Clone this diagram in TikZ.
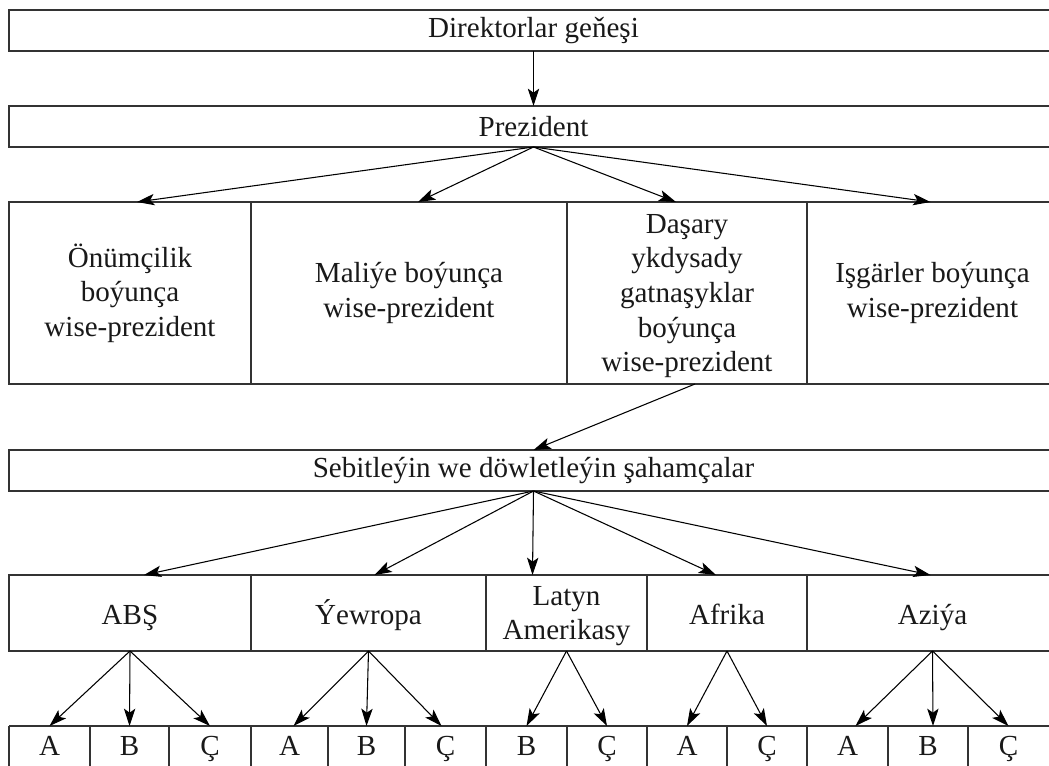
\documentclass[tikz,border=0pt]{standalone}
\usepackage{fontspec}
\setmainfont{Liberation Serif}
\usetikzlibrary{arrows.meta,calc}
\begin{document}
\begin{tikzpicture}[x=0.75pt,y=-0.75pt,
  txt/.style={font=\fontsize{21.8}{26}\selectfont, text=black!90, align=center},
  rect/.style n args={4}{at={({(#1+#3)/2},{(#2+#4)/2})}, minimum width={(#3-#1)*0.75pt}, minimum height={(#4-#2)*0.75pt}},
  box/.style={txt, draw=black!80, line width=1pt, inner sep=0pt, outer sep=0pt},
  bcell/.style={txt, inner sep=0pt, outer sep=0pt, text height=14.4pt, text depth=0pt},
  low/.style={text height=17pt, text depth=0pt},
  arr/.style={draw=black, line width=0.8pt, -{Stealth[length=13pt,width=8.5pt,inset=3pt]}},
]
\useasboundingbox (0,0) rectangle (1049,766);
\clip (0,0) rectangle (1049,766);

\node[box, rect={9}{10}{1058}{51}] (dir) {Direktorlar geňeşi};
\node[box, rect={9}{106}{1058}{147}] (prez) {Prezident};
\node[box, rect={9}{202}{251}{384}] (v1) {Önümçilik\\boýunça\\wise-prezident};
\node[box, rect={251}{202}{567}{384}] (v2) {Maliýe boýunça\\wise-prezident};
\node[box, text depth=-9pt, rect={567}{202}{807}{384}] (v3) {Daşary\\ykdysady\\gatnaşyklar\\boýunça\\wise-prezident};
\node[box, rect={807}{202}{1058}{384}] (v4) {Işgärler boýunça\\wise-prezident};
\node[box, rect={9}{450}{1058}{491}] (seb) {Sebitleýin we döwletleýin şahamçalar};

\node[box, low, rect={9}{575}{251}{651}] (r1) {ABŞ};
\node[box, low, rect={251}{575}{486}{651}] (r2) {Ýewropa};
\node[box, text depth=-1.3pt, rect={486}{575}{647}{651}] (r3) {Latyn\\Amerikasy};
\node[box, low, rect={647}{575}{807}{651}] (r4) {Afrika};
\node[box, low, rect={807}{575}{1058}{651}] (r5) {Aziýa};

\node[bcell, rect={9}{726}{90}{766}] (b1) {A};
\node[bcell, rect={90}{726}{169}{766}] (b2) {B};
\node[bcell, rect={169}{726}{251}{766}] (b3) {Ç};
\node[bcell, rect={251}{726}{328}{766}] (b4) {A};
\node[bcell, rect={328}{726}{405}{766}] (b5) {B};
\node[bcell, rect={405}{726}{486}{766}] (b6) {Ç};
\node[bcell, rect={486}{726}{567}{766}] (b7) {B};
\node[bcell, rect={567}{726}{647}{766}] (b8) {Ç};
\node[bcell, rect={647}{726}{727}{766}] (b9) {A};
\node[bcell, rect={727}{726}{807}{766}] (b10) {Ç};
\node[bcell, rect={807}{726}{888}{766}] (b11) {A};
\node[bcell, rect={888}{726}{968}{766}] (b12) {B};
\node[bcell, rect={968}{726}{1049}{766}] (b13) {Ç};
\draw[draw=black!80, line width=1pt] (b1.north west) -- ([xshift=10pt]b13.north east);
\foreach \i in {1,...,13} \draw[draw=black!80, line width=1pt] (b\i.north west) -- ([yshift=-30pt]b\i.south west);

\draw[arr] (dir.south) -- (prez.north);
\draw[arr] (prez.south) -- ($(v1.north)+(7,0)$);
\draw[arr] (prez.south) -- ($(v2.north)+(9,0)$);
\draw[arr] (prez.south) -- ($(v3.north)+(-11,0)$);
\draw[arr] (prez.south) -- ($(v4.north)+(-2,0)$);
\draw[arr] ($(v3.south)+(8,0)$) -- (seb.north);
\draw[arr] (seb.south) -- ($(r1.north)+(14,0)$);
\draw[arr] (seb.south) -- ($(r2.north)+(6,0)$);
\draw[arr] (seb.south) -- ($(r3.north)+(-34,0)$);
\draw[arr] (seb.south) -- ($(r4.north)+(-11,0)$);
\draw[arr] (seb.south) -- ($(r5.north)+(-2,0)$);

\draw[arr] (r1.south) -- (b1.north);
\draw[arr] (r1.south) -- (b2.north);
\draw[arr] (r1.south) -- (b3.north);
\draw[arr] (r2.south) -- ($(b4.north)+(4,0)$);
\draw[arr] (r2.south) -- (b5.north);
\draw[arr] (r2.south) -- ($(b6.north)+(-4,0)$);
\draw[arr] (r3.south) -- (b7.north);
\draw[arr] (r3.south) -- (b8.north);
\draw[arr] (r4.south) -- (b9.north);
\draw[arr] (r4.south) -- (b10.north);
\draw[arr] (r5.south) -- ($(b11.north)+(8,0)$);
\draw[arr] (r5.south) -- ($(b12.north)+(5,0)$);
\draw[arr] (r5.south) -- (b13.north);
\end{tikzpicture}
\end{document}
